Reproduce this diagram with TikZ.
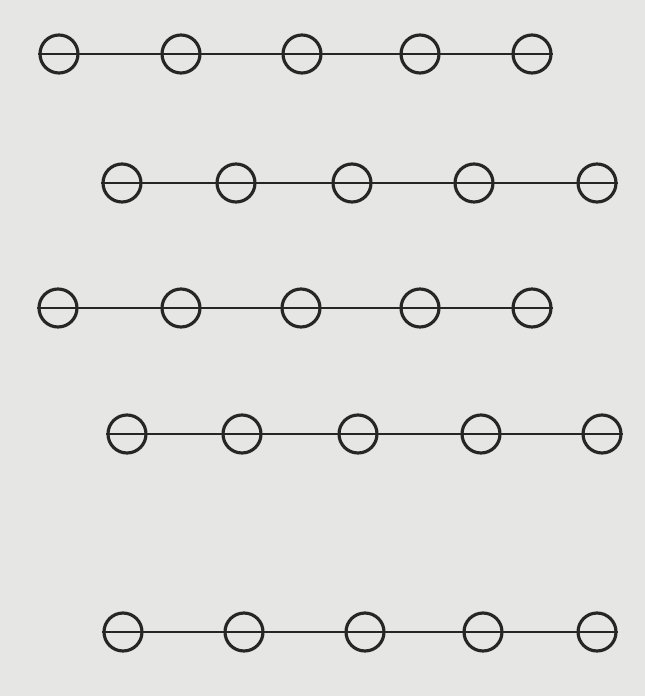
\documentclass[tikz,border=0pt]{standalone}
\usepackage{tikz}
\usetikzlibrary{positioning,calc}
\definecolor{papier}{RGB}{230,230,228}
\definecolor{encre}{RGB}{38,38,38}

\begin{document}
\begin{tikzpicture}[x=0.02cm, y=-0.02cm,
    ring/.style={circle, draw=encre, line width=1.8pt, minimum size=0.76cm, inner sep=0pt},
    wire/.style={draw=encre, line width=1.5pt}]
  % paper
  \fill[papier] (0,0) rectangle (645,696);
  \useasboundingbox (0,0) rectangle (645,696);
  % five rows of five rings on a wire
  \foreach \row/\yy/\xa/\xb/\xc/\xd/\xe in {1/54/59/181/302/420/532,
                                          2/183/122/236/352/474/597,
                                          3/308/58/181/301/420/532,
                                          4/434/127/242/358/481/602,
                                          5/632/123/244/365/483/597} {
    \node[ring] (r\row-1) at (\xa,\yy) {};
    \node[ring] (r\row-2) at (\xb,\yy) {};
    \node[ring] (r\row-3) at (\xc,\yy) {};
    \node[ring] (r\row-4) at (\xd,\yy) {};
    \node[ring] (r\row-5) at (\xe,\yy) {};
    \draw[wire] (r\row-1.west) -- (r\row-5.east);
  }
\end{tikzpicture}
\end{document}
